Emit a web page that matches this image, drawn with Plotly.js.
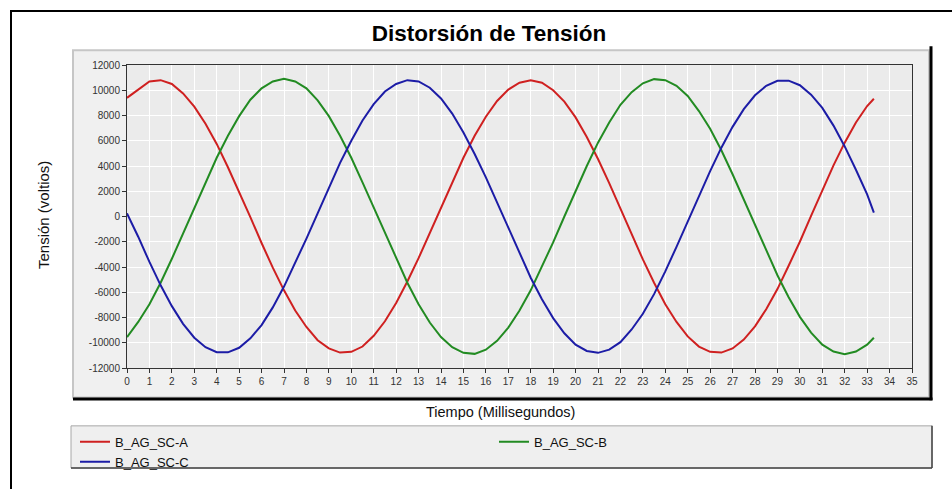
<!DOCTYPE html>
<html>
<head>
<meta charset="utf-8">
<script src="https://cdn.plot.ly/plotly-3.0.1.min.js"></script>
<style>html,body{margin:0;padding:0;background:#fff;}#chart{width:952px;height:489px;}</style>
</head>
<body>
<div id="chart"></div>
<script>
// ---- data ----
const timeMs = [0,0.5,1,1.5,2,2.5,3,3.5,4,4.5,5,5.5,6,6.5,7,7.5,8,8.5,9,9.5,10,10.5,11,11.5,12,12.5,13,13.5,14,14.5,15,15.5,16,16.5,17,17.5,18,18.5,19,19.5,20,20.5,21,21.5,22,22.5,23,23.5,24,24.5,25,25.5,26,26.5,27,27.5,28,28.5,29,29.5,30,30.5,31,31.5,32,32.5,33,33.3];
const seriesA = [9400,10050,10700,10800,10500,9750,8700,7350,5750,3900,1950,-50,-2100,-4050,-5850,-7450,-8750,-9800,-10450,-10780,-10720,-10300,-9450,-8300,-6850,-5150,-3300,-1300,750,2750,4650,6400,7900,9150,10050,10600,10800,10600,10000,9100,7850,6300,4550,2650,600,-1400,-3400,-5250,-6950,-8350,-9500,-10300,-10720,-10780,-10450,-9750,-8700,-7350,-5750,-3900,-2000,50,2100,4050,5850,7450,8750,9330];
const seriesB = [-9550,-8350,-6950,-5250,-3350,-1350,700,2700,4650,6400,7950,9250,10150,10700,10900,10700,10150,9200,7950,6400,4650,2700,700,-1350,-3350,-5250,-6950,-8400,-9550,-10350,-10800,-10880,-10550,-9850,-8800,-7450,-5850,-4000,-2050,0,2050,4000,5850,7450,8850,9850,10550,10880,10800,10350,9550,8350,6950,5250,3350,1350,-700,-2700,-4650,-6400,-7950,-9200,-10150,-10700,-10900,-10700,-10150,-9600];
const seriesC = [250,-1600,-3600,-5450,-7100,-8500,-9600,-10350,-10750,-10760,-10400,-9650,-8600,-7200,-5550,-3700,-1750,250,2300,4250,6000,7600,8900,9900,10500,10800,10700,10200,9350,8150,6650,4950,3100,1100,-950,-2950,-4850,-6550,-8050,-9250,-10150,-10650,-10800,-10550,-9950,-8950,-7700,-6150,-4350,-2400,-400,1600,3600,5450,7100,8500,9600,10350,10750,10760,10400,9650,8600,7200,5550,3700,1750,300];
const seriesNames = ['B_AG_SC-A','B_AG_SC-B','B_AG_SC-C'];
const yTickVals = [-12000,-10000,-8000,-6000,-4000,-2000,0,2000,4000,6000,8000,10000,12000];
const yTickText = ['-12000','-10000','-8000','-6000','-4000','-2000','0','2000','4000','6000','8000','10000','12000'];
const chartTitle = 'Distorsión de Tensión';
const xTitle = 'Tiempo (Millisegundos)';
const yTitle = 'Tensión (voltios)';

// ---- layout helpers (pixel -> paper) ----
const W = 952, H = 489;
const M = {l:127, r:40, t:65, b:115};
const PW = W - M.l - M.r, PH = H - M.t - M.b;
const px = x => (x - M.l) / PW;
const py = y => (H - M.b - y) / PH;
const FONT = 'Arial, "Liberation Sans", sans-serif';

const colors = ['#cf2020', '#228b22', '#1c1ca6'];
const traces = [seriesA, seriesB, seriesC].map((vals, i) => ({
  type: 'scatter', mode: 'lines', x: timeMs, y: vals, name: seriesNames[i],
  line: {color: colors[i], width: 2}
}));

const shapes = [
  // outer frame
  {type:'rect', xref:'paper', yref:'paper', x0:px(11), x1:px(980), y0:py(10), y1:py(520), line:{color:'#000', width:2}, layer:'below'},
  // chart panel with shadow
  {type:'rect', xref:'paper', yref:'paper', x0:px(73), x1:px(929), y0:py(50), y1:py(404), fillcolor:'#f0f0f0', line:{color:'#c6c6c6', width:2}, layer:'below'},
  {type:'line', xref:'paper', yref:'paper', x0:px(931), x1:px(931), y0:py(46), y1:py(407), line:{color:'#000', width:3}, layer:'below'},
  {type:'line', xref:'paper', yref:'paper', x0:px(73), x1:px(932.5), y0:py(405.5), y1:py(405.5), line:{color:'#000', width:3}, layer:'below'},
  // plot area background
  {type:'rect', xref:'paper', yref:'paper', x0:0, x1:1, y0:0, y1:1, fillcolor:'#ebebeb', line:{width:0}, layer:'below'},
  // legend box
  {type:'rect', xref:'paper', yref:'paper', x0:px(71), x1:px(932), y0:py(433), y1:py(476), fillcolor:'#efefef', line:{color:'#a8a8a8', width:1}, layer:'below'},
  {type:'line', xref:'paper', yref:'paper', x0:px(71), x1:px(932), y0:py(476), y1:py(476), line:{color:'#444', width:1.5}, layer:'below'},
  {type:'line', xref:'paper', yref:'paper', x0:px(932), x1:px(932), y0:py(433), y1:py(476), line:{color:'#444', width:1.5}, layer:'below'}
];

const layout = {
  width: W, height: H, autosize: false,
  margin: M,
  paper_bgcolor: '#ffffff',
  plot_bgcolor: 'rgba(0,0,0,0)',
  font: {family: FONT, color: '#222'},
  title: {text: chartTitle, font: {family: FONT, size: 22.5, color: '#000', weight: 'bold'},
          xref: 'container', yref: 'container', x: 489 / W, xanchor: 'center', y: 1 - 33 / H, yanchor: 'middle'},
  xaxis: {range: [0, 35], dtick: 1, tick0: 0, showgrid: true, gridcolor: '#ffffff', gridwidth: 1,
          zeroline: false, showline: true, mirror: true, linecolor: '#333', linewidth: 1,
          ticks: 'outside', ticklen: 4, tickcolor: '#333', tickfont: {family: FONT, size: 10, color: '#333'}},
  yaxis: {range: [-12000, 12000], tickmode: 'array', tickvals: yTickVals, ticktext: yTickText,
          showgrid: true, gridcolor: '#ffffff', gridwidth: 1,
          zeroline: false, showline: true, mirror: true, linecolor: '#333', linewidth: 1,
          ticks: 'outside', ticklen: 4, tickcolor: '#333', tickfont: {family: FONT, size: 10, color: '#333'}},
  showlegend: true,
  legend: {orientation: 'h', x: px(75), xanchor: 'left', y: py(434), yanchor: 'top',
           bgcolor: 'rgba(0,0,0,0)', borderwidth: 0, font: {family: FONT, size: 13, color: '#111'},
           entrywidth: 374, entrywidthmode: 'pixels', tracegroupgap: 0},
  annotations: [
    {text: xTitle, xref: 'paper', yref: 'paper', x: px(500), y: py(419), xanchor: 'center', yanchor: 'middle',
     showarrow: false, font: {family: FONT, size: 14.5, color: '#111'}},
    {text: yTitle, xref: 'paper', yref: 'paper', x: px(43), y: py(218), xanchor: 'center', yanchor: 'middle',
     textangle: -90, showarrow: false, font: {family: FONT, size: 15, color: '#111'}}
  ],
  shapes: shapes,
  hovermode: false
};

Plotly.newPlot('chart', traces, layout, {staticPlot: true, displayModeBar: false});
</script>
</body>
</html>
